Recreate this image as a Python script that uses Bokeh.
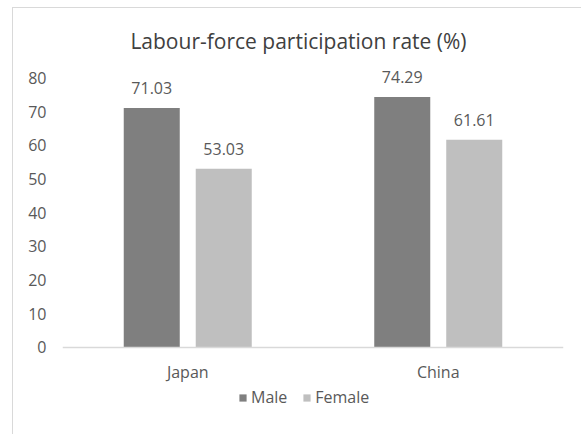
from bokeh.plotting import figure
from bokeh.models import (ColumnDataSource, FactorRange, Range1d, FixedTicker,
                          Legend, LegendItem, Label)
from bokeh.transform import dodge
from bokeh.core.properties import value
from bokeh.embed import file_html
from bokeh.resources import INLINE

# Data
countries = ["Japan", "China"]
male = [71.03, 74.29]
female = [53.03, 61.61]
y_ticks = [0, 10, 20, 30, 40, 50, 60, 70, 80]
title_text = "Labour-force participation rate (%)"

FONT = "Open Sans"
TEXT_COLOR = "#595959"
MALE_COLOR = "#7f7f7f"
FEMALE_COLOR = "#bfbfbf"

source = ColumnDataSource(data=dict(
    country=countries,
    male=male,
    female=female,
    male_lbl=[f"{v:.2f}" for v in male],
    female_lbl=[f"{v:.2f}" for v in female],
))

# the frame reaches below zero so the legend can sit under the category labels
Y_LOW, Y_HIGH = -20, 100
PX_PER_UNIT = 3.37
frame_h = round((Y_HIGH - Y_LOW) * PX_PER_UNIT)

p = figure(
    x_range=FactorRange(factors=countries, range_padding=0),
    y_range=Range1d(Y_LOW, Y_HIGH),
    width=568, height=frame_h + 2 + 40, frame_width=501, frame_height=frame_h,
    min_border_left=49, min_border_right=18,
    min_border_top=2, min_border_bottom=0,
    output_backend="svg", toolbar_location=None,
)
p.styles = {
    "margin-left": "12px", "margin-top": "7px",
    "padding-bottom": "40px",
    "border-left": "1px solid #d9d9d9", "border-top": "1px solid #d9d9d9",
}
p.outline_line_color = None
p.xgrid.grid_line_color = None
p.ygrid.grid_line_color = None
p.background_fill_color = "white"
p.border_fill_color = "white"

bar_w = 0.2236
off = 0.1437
r_male = p.vbar(x=dodge("country", -off, range=p.x_range), top="male", bottom=0,
                width=bar_w, source=source, fill_color=MALE_COLOR, line_color=None)
r_female = p.vbar(x=dodge("country", off, range=p.x_range), top="female", bottom=0,
                  width=bar_w, source=source, fill_color=FEMALE_COLOR, line_color=None)

# value labels above the bars
for col, lbl in (("male", "male_lbl"), ("female", "female_lbl")):
    p.text(x=dodge("country", -off if col == "male" else off, range=p.x_range),
           y=col, text=lbl, source=source, y_offset=-20,
           text_align="center", text_baseline="middle",
           text_font=value(FONT), text_font_size="16px", text_color=TEXT_COLOR)

# chart title
p.add_layout(Label(x=0.942, y=91, text=title_text, text_align="center",
                   text_baseline="middle", text_font=FONT, text_font_size="21px",
                   text_color="#404040"))

# axes
p.yaxis.ticker = FixedTicker(ticks=y_ticks)
p.yaxis.axis_line_color = None
p.yaxis.major_tick_line_color = None
p.yaxis.minor_tick_line_color = None
p.yaxis.major_tick_out = 0
p.yaxis.major_label_standoff = 16
p.yaxis.major_label_text_font = FONT
p.yaxis.major_label_text_font_size = "16px"
p.yaxis.major_label_text_color = TEXT_COLOR

p.xaxis.fixed_location = 0
p.xaxis.axis_line_color = "#d9d9d9"
p.xaxis.axis_line_width = 1.5
p.xaxis.major_tick_line_color = None
p.xaxis.minor_tick_line_color = None
p.xaxis.major_tick_out = 0
p.xaxis.major_label_standoff = 14
p.xaxis.major_label_text_font = FONT
p.xaxis.major_label_text_font_size = "16px"
p.xaxis.major_label_text_color = TEXT_COLOR

# legend under the category labels
legend = Legend(items=[LegendItem(label="Male", renderers=[r_male]),
                       LegendItem(label="Female", renderers=[r_female])],
                orientation="horizontal", location=(176, 6),
                glyph_width=9, glyph_height=9, label_standoff=4, spacing=15,
                label_text_font=FONT, label_text_font_size="16px",
                label_text_color=TEXT_COLOR, border_line_color=None,
                background_fill_alpha=0, padding=0, margin=0)
p.add_layout(legend, "center")

open("out.html", "w").write(file_html(p, INLINE))
